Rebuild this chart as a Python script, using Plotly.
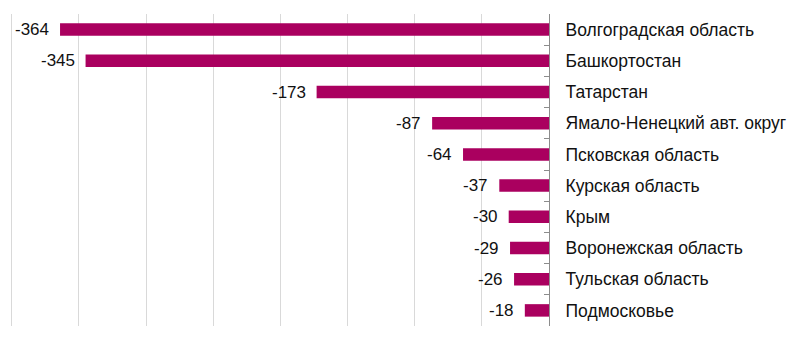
import plotly.graph_objects as go

regions = ["Волгоградская область", "Башкортостан", "Татарстан", "Ямало-Ненецкий авт. округ",
           "Псковская область", "Курская область", "Крым", "Воронежская область",
           "Тульская область", "Подмосковье"]
values = [-364, -345, -173, -87, -64, -37, -30, -29, -26, -18]

color = "#AA005F"
FONT = "Liberation Sans"
fig = go.Figure()
fig.add_trace(go.Bar(x=values, y=regions, orientation="h", marker_color=color,
                     marker_line_width=0, hoverinfo="skip"))
for r, v in zip(regions, values):
    fig.add_annotation(x=v, y=r, text=str(v), showarrow=False, xanchor="right",
                       xshift=-9, font=dict(family=FONT, size=17, color="#111111"))

fig.update_layout(
    width=793, height=344,
    margin=dict(l=9, r=244, t=14, b=18, autoexpand=False),
    plot_bgcolor="white", paper_bgcolor="white",
    bargap=0.6, showlegend=False,
    font=dict(family=FONT, size=17, color="#111111"),
)
fig.update_xaxes(range=[-402, 0], dtick=50, tick0=0, showgrid=True, gridcolor="#D9D9D9",
                 gridwidth=1, showticklabels=False, zeroline=False, showline=False,
                 fixedrange=True, automargin=False)
fig.update_yaxes(side="right", autorange="reversed", showgrid=False, ticks="inside",
                 tickson="boundaries", ticklen=5, tickcolor="#8C8C8C", showline=True,
                 linecolor="#8C8C8C", linewidth=1, ticklabelstandoff=12, automargin=False,
                 tickfont=dict(family=FONT, size=17.5, color="#111111"))
fig.write_html("out.html")
